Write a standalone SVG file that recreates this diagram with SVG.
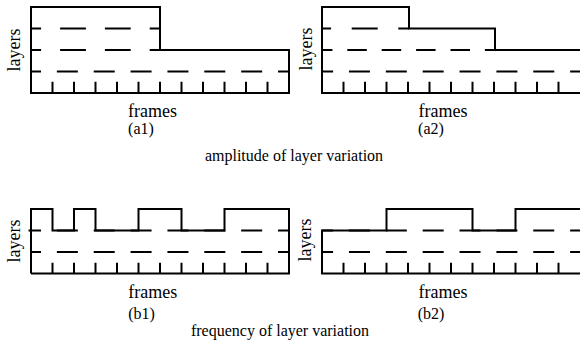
<svg xmlns="http://www.w3.org/2000/svg" width="580" height="347" viewBox="0 0 580 347">
<style>
.o{fill:none;stroke:#000;stroke-width:2;stroke-linejoin:miter;stroke-linecap:butt}
.t{fill:none;stroke:#000;stroke-width:2}
.dl{fill:none;stroke:#000;stroke-width:2;stroke-dasharray:21 15.86}
.lab{font-family:"Liberation Serif","Times New Roman",serif;font-size:18px;fill:#000}
.sub{font-family:"Liberation Serif","Times New Roman",serif;font-size:16px;fill:#000}
</style>
<rect width="580" height="347" fill="#fff"/>

<g id="panel-a1">
  <path class="dl" d="M31,71.5H289" stroke-dashoffset="11"/>
  <path class="t" d="M31,28.5H160M31,50H160" stroke-dasharray="25.8 19" stroke-dashoffset="15.7"/>
  <path class="o" d="M160,50V7H31V93H289V50H160"/>
  <path class="t" d="M52.5,81.7V93M74,81.7V93M95.5,81.7V93M117,81.7V93M138.5,81.7V93M160,81.7V93M181.5,81.7V93M203,81.7V93M224.5,81.7V93M246,81.7V93M267.5,81.7V93"/>
  <text class="lab" text-anchor="middle" transform="translate(19.5,50) rotate(-90)">layers</text>
  <text class="lab" x="152.5" y="117.3" text-anchor="middle">frames</text>
  <text class="sub" x="141" y="134.4" text-anchor="middle">(a1)</text>
</g>

<g id="panel-a2">
  <path class="dl" d="M322,71.5H580" stroke-dashoffset="9.9"/>
  <path class="t" d="M322,28.5H409" stroke-dasharray="26 20.6" stroke-dashoffset="16.9"/>
  <path class="t" d="M322,50H495" stroke-dasharray="19.5 14.9" stroke-dashoffset="9.1"/>
  <path class="o" d="M580,50H495V28.5H409V7H322V93H580"/>
  <path class="t" d="M343.5,81.7V93M365,81.7V93M386.5,81.7V93M408,81.7V93M429.5,81.7V93M451,81.7V93M472.5,81.7V93M494,81.7V93M515.5,81.7V93M537,81.7V93M558.5,81.7V93"/>
  <text class="lab" text-anchor="middle" transform="translate(311.5,49) rotate(-90)">layers</text>
  <text class="lab" x="443" y="117.3" text-anchor="middle">frames</text>
  <text class="sub" x="431" y="134.4" text-anchor="middle">(a2)</text>
</g>

<text id="caption-a" class="sub" x="294" y="161" text-anchor="middle">amplitude of layer variation</text>

<g id="panel-b1">
  <path class="dl" d="M28.5,230.5H289" stroke-dashoffset="8.5"/>
  <path class="dl" d="M31,252H289" stroke-dashoffset="11"/>
  <path class="o" d="M31,273.5V209H52.5V230.5H74V209H95.5V230.5H138.5V209H181.5V230.5H224.5V209H289V273.5H31"/>
  <path class="t" d="M52.5,262.7V273.5M74,262.7V273.5M95.5,262.7V273.5M117,262.7V273.5M138.5,262.7V273.5M160,262.7V273.5M181.5,262.7V273.5M203,262.7V273.5M224.5,262.7V273.5M246,262.7V273.5M267.5,262.7V273.5"/>
  <text class="lab" text-anchor="middle" transform="translate(19.5,241) rotate(-90)">layers</text>
  <text class="lab" x="152.7" y="298.3" text-anchor="middle">frames</text>
  <text class="sub" x="141.5" y="318.8" text-anchor="middle">(b1)</text>
</g>

<g id="panel-b2">
  <path class="dl" d="M322,230.5H580" stroke-dashoffset="9.9"/>
  <path class="dl" d="M322,252H580" stroke-dashoffset="9.9"/>
  <path class="o" d="M580,209H515.5V230.5H472.5V209H386.5V230.5H322V273.5H580"/>
  <path class="t" d="M343.5,262.7V273.5M365,262.7V273.5M386.5,262.7V273.5M408,262.7V273.5M429.5,262.7V273.5M451,262.7V273.5M472.5,262.7V273.5M494,262.7V273.5M515.5,262.7V273.5M537,262.7V273.5M558.5,262.7V273.5"/>
  <text class="lab" text-anchor="middle" transform="translate(311,240) rotate(-90)">layers</text>
  <text class="lab" x="443" y="298.3" text-anchor="middle">frames</text>
  <text class="sub" x="431" y="318.8" text-anchor="middle">(b2)</text>
</g>

<text id="caption-b" class="sub" x="280" y="336" text-anchor="middle">frequency of layer variation</text>
</svg>
